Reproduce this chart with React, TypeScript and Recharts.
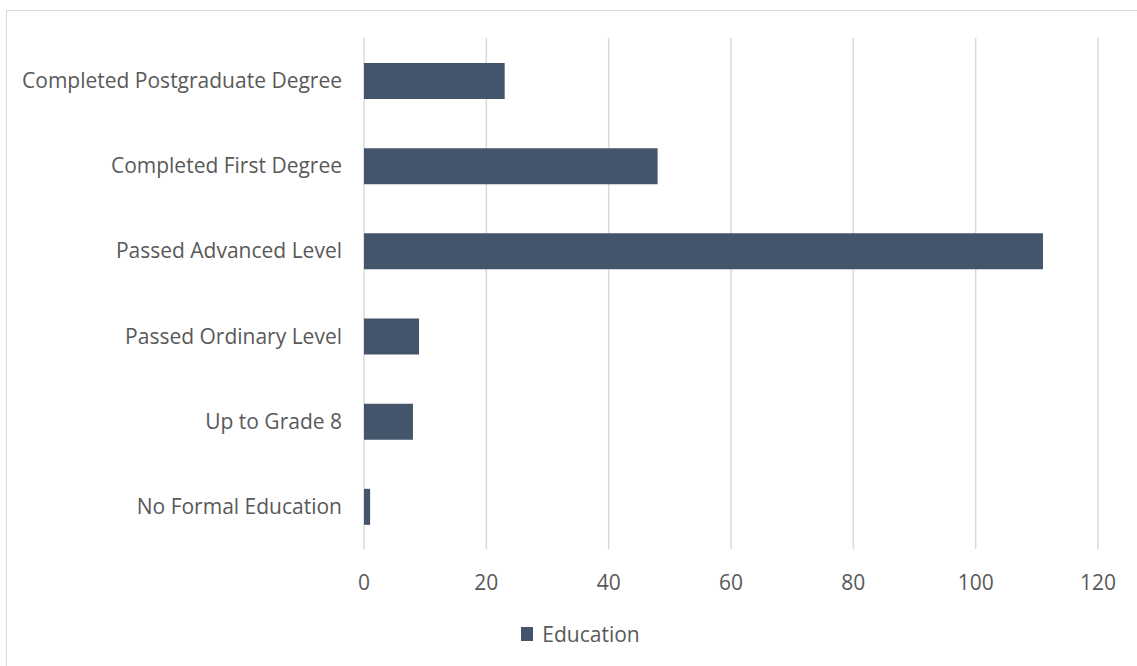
import React from "react";
import { BarChart, Bar, XAxis, YAxis, CartesianGrid, Legend } from "recharts";

const categories = [
  "Completed Postgraduate Degree",
  "Completed First Degree",
  "Passed Advanced Level",
  "Passed Ordinary Level",
  "Up to Grade 8",
  "No Formal Education",
];
const educationValues = [23, 48, 111, 9, 8, 1];
const xTicks = [0, 20, 40, 60, 80, 100, 120];
const seriesName = "Education";

const data = categories.map((c, i) => ({ category: c, Education: educationValues[i] }));

const FONT = "'Open Sans', sans-serif";
const TEXT = "#595959";
const BAR = "#44546a";

const LegendContent = () => (
  <div style={{ display: "flex", justifyContent: "center", alignItems: "center", fontFamily: FONT, fontSize: 21, color: TEXT }}>
    <span style={{ display: "inline-block", width: 12, height: 14, background: BAR, marginRight: 9 }} />
    <span>{seriesName}</span>
  </div>
);

export default function App() {
  return (
    <div style={{ position: "fixed", left: 0, top: 0, width: 1137, height: 666, overflow: "hidden", background: "#fff" }}>
      <div style={{ position: "absolute", left: 6, top: 10, width: 1160, height: 700, border: "1px solid #d9d9d9", boxSizing: "border-box" }} />
      <div style={{ position: "absolute", left: 0, top: 0 }}>
        <BarChart
          width={1137}
          height={666}
          data={data}
          layout="vertical"
          margin={{ top: 38, right: 39, left: 0, bottom: 0 }}
          barSize={36}
        >
          <CartesianGrid horizontal={false} stroke="#d9d9d9" strokeWidth={1.5} />
          <XAxis
            type="number"
            domain={[0, 120]}
            ticks={xTicks}
            axisLine={false}
            tickLine={false}
            tickSize={0}
            tickMargin={26}
            height={117}
            tick={{ fill: TEXT, fontFamily: FONT, fontSize: 21 }}
          />
          <YAxis
            type="category"
            dataKey="category"
            width={364}
            axisLine={false}
            tickLine={false}
            tickSize={0}
            tickMargin={22}
            tick={{ fill: TEXT, fontFamily: FONT, fontSize: 21 }}
          />
          <Legend
            verticalAlign="middle"
            align="center"
            wrapperStyle={{ top: 620, left: 12, width: 1137 }}
            content={<LegendContent />}
          />
          <Bar dataKey="Education" name={seriesName} fill={BAR} isAnimationActive={false} />
        </BarChart>
      </div>
    </div>
  );
}
